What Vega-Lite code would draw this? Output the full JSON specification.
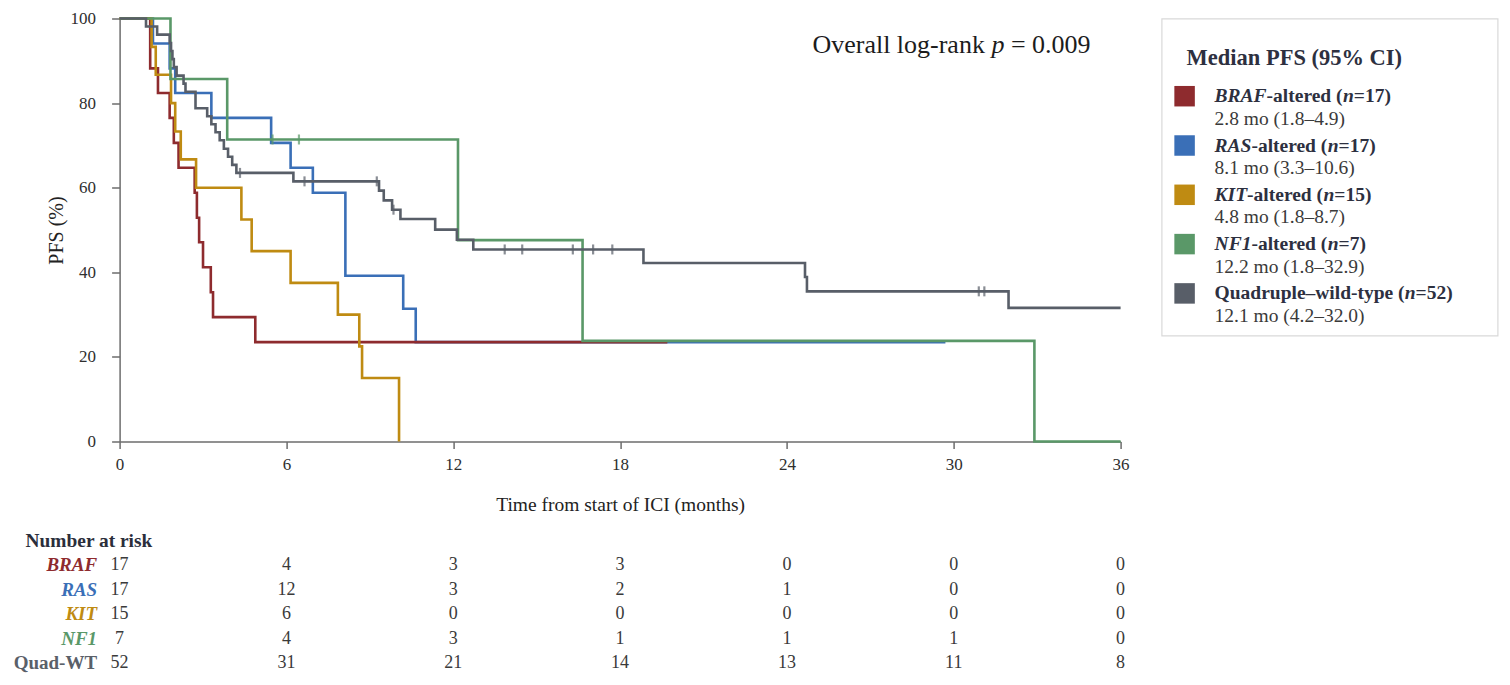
{
  "$schema": "https://vega.github.io/schema/vega-lite/v6.json",
  "padding": {"left": 12.6, "top": 9.5, "right": 5, "bottom": 5},
  "columns": 2,
  "spacing": {"row": 87.25, "column": 41},
  "bounds": "flush",
  "align": "each",
  "datasets": {
    "km": [
      {"group":"RAS","t":0,"s":100},{"group":"RAS","t":1.2,"s":94.1},{"group":"RAS","t":1.8,"s":88.2},{"group":"RAS","t":2.0,"s":82.4},{"group":"RAS","t":3.3,"s":76.5},{"group":"RAS","t":5.45,"s":70.6},{"group":"RAS","t":6.15,"s":64.7},{"group":"RAS","t":6.95,"s":58.8},{"group":"RAS","t":8.12,"s":39.2},{"group":"RAS","t":10.2,"s":31.4},{"group":"RAS","t":10.65,"s":23.5},{"group":"RAS","t":29.7,"s":23.5},
      {"group":"BRAF","t":0,"s":100},{"group":"BRAF","t":1.1,"s":88.2},{"group":"BRAF","t":1.38,"s":82.4},{"group":"BRAF","t":1.8,"s":76.5},{"group":"BRAF","t":1.95,"s":70.6},{"group":"BRAF","t":2.12,"s":64.7},{"group":"BRAF","t":2.7,"s":58.8},{"group":"BRAF","t":2.78,"s":52.9},{"group":"BRAF","t":2.86,"s":47.1},{"group":"BRAF","t":3.0,"s":41.2},{"group":"BRAF","t":3.28,"s":35.3},{"group":"BRAF","t":3.36,"s":29.4},{"group":"BRAF","t":4.88,"s":23.5},{"group":"BRAF","t":19.7,"s":23.5},
      {"group":"KIT","t":0,"s":100},{"group":"KIT","t":1.15,"s":93.3},{"group":"KIT","t":1.3,"s":86.7},{"group":"KIT","t":1.85,"s":80},{"group":"KIT","t":2.0,"s":73.3},{"group":"KIT","t":2.2,"s":66.7},{"group":"KIT","t":2.75,"s":60},{"group":"KIT","t":4.38,"s":52.5},{"group":"KIT","t":4.75,"s":45},{"group":"KIT","t":6.15,"s":37.5},{"group":"KIT","t":7.85,"s":30},{"group":"KIT","t":8.62,"s":22.5},{"group":"KIT","t":8.72,"s":15},{"group":"KIT","t":10.05,"s":0},
      {"group":"NF1","t":0,"s":100},{"group":"NF1","t":1.83,"s":85.7},{"group":"NF1","t":3.87,"s":71.4},{"group":"NF1","t":12.17,"s":47.6},{"group":"NF1","t":16.65,"s":23.8},{"group":"NF1","t":32.9,"s":0},{"group":"NF1","t":36,"s":0},
      {"group":"Quad-WT","t":0,"s":100},{"group":"Quad-WT","t":0.95,"s":98.1},{"group":"Quad-WT","t":1.35,"s":96.2},{"group":"Quad-WT","t":1.8,"s":94.2},{"group":"Quad-WT","t":1.85,"s":92.3},{"group":"Quad-WT","t":1.9,"s":90.4},{"group":"Quad-WT","t":1.95,"s":88.5},{"group":"Quad-WT","t":2.05,"s":86.5},{"group":"Quad-WT","t":2.3,"s":84.6},{"group":"Quad-WT","t":2.37,"s":82.7},{"group":"Quad-WT","t":2.73,"s":78.8},{"group":"Quad-WT","t":3.15,"s":76.9},{"group":"Quad-WT","t":3.3,"s":75.0},{"group":"Quad-WT","t":3.45,"s":73.1},{"group":"Quad-WT","t":3.6,"s":71.2},{"group":"Quad-WT","t":3.75,"s":69.2},{"group":"Quad-WT","t":3.9,"s":67.3},{"group":"Quad-WT","t":4.05,"s":65.4},{"group":"Quad-WT","t":4.2,"s":63.5},{"group":"Quad-WT","t":6.25,"s":61.5},{"group":"Quad-WT","t":9.33,"s":59.3},{"group":"Quad-WT","t":9.5,"s":57.0},{"group":"Quad-WT","t":9.8,"s":54.8},{"group":"Quad-WT","t":10.1,"s":52.6},{"group":"Quad-WT","t":11.35,"s":50.1},{"group":"Quad-WT","t":12.13,"s":47.7},{"group":"Quad-WT","t":12.72,"s":45.4},{"group":"Quad-WT","t":18.84,"s":42.2},{"group":"Quad-WT","t":24.65,"s":38.9},{"group":"Quad-WT","t":24.72,"s":35.5},{"group":"Quad-WT","t":31.97,"s":31.6},{"group":"Quad-WT","t":36,"s":31.6}
    ],
    "censor": [
      {"group":"NF1","t":5.5,"s":71.4},{"group":"NF1","t":6.45,"s":71.4},
      {"group":"Quad-WT","t":4.33,"s":63.5},{"group":"Quad-WT","t":6.65,"s":61.5},{"group":"Quad-WT","t":9.25,"s":61.5},{"group":"Quad-WT","t":9.85,"s":54.8},{"group":"Quad-WT","t":13.85,"s":45.4},{"group":"Quad-WT","t":14.48,"s":45.4},{"group":"Quad-WT","t":16.3,"s":45.4},{"group":"Quad-WT","t":17.03,"s":45.4},{"group":"Quad-WT","t":17.72,"s":45.4},{"group":"Quad-WT","t":30.9,"s":35.5},{"group":"Quad-WT","t":31.1,"s":35.5}
    ],
    "risk": [
      {"group":"BRAF","time":0,"n":17},{"group":"BRAF","time":6,"n":4},{"group":"BRAF","time":12,"n":3},{"group":"BRAF","time":18,"n":3},{"group":"BRAF","time":24,"n":0},{"group":"BRAF","time":30,"n":0},{"group":"BRAF","time":36,"n":0},
      {"group":"RAS","time":0,"n":17},{"group":"RAS","time":6,"n":12},{"group":"RAS","time":12,"n":3},{"group":"RAS","time":18,"n":2},{"group":"RAS","time":24,"n":1},{"group":"RAS","time":30,"n":0},{"group":"RAS","time":36,"n":0},
      {"group":"KIT","time":0,"n":15},{"group":"KIT","time":6,"n":6},{"group":"KIT","time":12,"n":0},{"group":"KIT","time":18,"n":0},{"group":"KIT","time":24,"n":0},{"group":"KIT","time":30,"n":0},{"group":"KIT","time":36,"n":0},
      {"group":"NF1","time":0,"n":7},{"group":"NF1","time":6,"n":4},{"group":"NF1","time":12,"n":3},{"group":"NF1","time":18,"n":1},{"group":"NF1","time":24,"n":1},{"group":"NF1","time":30,"n":1},{"group":"NF1","time":36,"n":0},
      {"group":"Quad-WT","time":0,"n":52},{"group":"Quad-WT","time":6,"n":31},{"group":"Quad-WT","time":12,"n":21},{"group":"Quad-WT","time":18,"n":14},{"group":"Quad-WT","time":24,"n":13},{"group":"Quad-WT","time":30,"n":11},{"group":"Quad-WT","time":36,"n":8}
    ],
    "leg": [
      {"group":"BRAF","gene":"BRAF","n":"=17)","ci":"2.8 mo (1.8–4.9)"},
      {"group":"RAS","gene":"RAS","n":"=17)","ci":"8.1 mo (3.3–10.6)"},
      {"group":"KIT","gene":"KIT","n":"=15)","ci":"4.8 mo (1.8–8.7)"},
      {"group":"NF1","gene":"NF1","n":"=7)","ci":"12.2 mo (1.8–32.9)"},
      {"group":"Quad-WT","gene":"Quadruple–wild-type (","n":"=52)","ci":"12.1 mo (4.2–32.0)"}
    ]
  },
  "concat": [
    {
      "width": 1001,
      "height": 423,
      "layer": [
        {
          "data": {"name": "km"},
          "mark": {"type": "line", "interpolate": "step-after", "strokeWidth": 2.6},
          "encoding": {
            "x": {"field": "t", "type": "quantitative", "scale": {"domain": [0, 36], "nice": false, "zero": true},
              "axis": {"values": [0, 6, 12, 18, 24, 30, 36], "title": "Time from start of ICI (months)", "tickSize": 7, "labelPadding": 8, "titlePadding": 23, "labelFontSize": 17, "titleFontSize": 19.5}},
            "y": {"field": "s", "type": "quantitative", "scale": {"domain": [0, 100], "nice": false},
              "axis": {"values": [0, 20, 40, 60, 80, 100], "title": "PFS (%)", "tickSize": 8, "labelPadding": 16, "titlePadding": 4, "labelFontSize": 17, "titleFontSize": 20}},
            "color": {"field": "group", "type": "nominal", "scale": {"domain": ["BRAF", "RAS", "KIT", "NF1", "Quad-WT"], "range": ["#8e2b2e", "#3a6fb7", "#bf8b12", "#5a9868", "#585e68"]}, "legend": null}
          }
        },
        {
          "data": {"name": "censor"},
          "mark": {"type": "tick", "orient": "vertical", "size": 10, "thickness": 2.2},
          "encoding": {
            "x": {"field": "t", "type": "quantitative"},
            "y": {"field": "s", "type": "quantitative"},
            "color": {"field": "group", "type": "nominal", "scale": {"domain": ["BRAF", "RAS", "KIT", "NF1", "Quad-WT"], "range": ["#8e2b2e", "#3a6fb7", "#bf8b12", "#5a9868", "#585e68"]}, "legend": null}
          }
        },
        {
          "data": {"values": [{"txt": "= 0.009"}]},
          "mark": {"type": "text", "align": "right", "baseline": "alphabetic", "dx": -30, "dy": 34.7, "fontSize": 26, "color": "#1c1c1c"},
          "encoding": {"x": {"datum": 36}, "y": {"datum": 100}, "text": {"field": "txt"}}
        },
        {
          "data": {"values": [{"txt": "p"}]},
          "mark": {"type": "text", "align": "right", "baseline": "alphabetic", "dx": -116.2, "dy": 34.7, "fontSize": 26, "fontStyle": "italic", "color": "#1c1c1c"},
          "encoding": {"x": {"datum": 36}, "y": {"datum": 100}, "text": {"field": "txt"}}
        },
        {
          "data": {"values": [{"txt": "Overall log-rank"}]},
          "mark": {"type": "text", "align": "right", "baseline": "alphabetic", "dx": -135.7, "dy": 34.7, "fontSize": 26, "color": "#1c1c1c"},
          "encoding": {"x": {"datum": 36}, "y": {"datum": 100}, "text": {"field": "txt"}}
        }
      ]
    },
    {
      "width": 336,
      "height": 317,
      "view": {"stroke": "#d9d9d9", "strokeWidth": 1.2},
      "data": {"name": "leg"},
      "encoding": {
        "y": {"field": "group", "type": "nominal", "scale": {"type": "band", "domain": ["title", "BRAF", "RAS", "KIT", "NF1", "Quad-WT"], "paddingInner": 0, "paddingOuter": 0.215, "align": 0.177}, "axis": null},
        "x": {"datum": "text", "type": "nominal", "scale": {"type": "point", "domain": ["swatch", "text"], "range": [23, 53], "padding": 0}, "axis": null}
      },
      "layer": [
        {
          "mark": {"type": "square", "size": 420, "filled": true, "opacity": 1},
          "encoding": {
            "x": {"datum": "swatch", "type": "nominal"},
            "color": {"field": "group", "type": "nominal", "scale": {"domain": ["BRAF", "RAS", "KIT", "NF1", "Quad-WT"], "range": ["#8e2b2e", "#3a6fb7", "#bf8b12", "#5a9868", "#585e68"]}, "legend": null}
          }
        },
        {
          "data": {"values": [{"t": "Median PFS (95% CI)"}]},
          "mark": {"type": "text", "align": "left", "baseline": "alphabetic", "dx": 2, "dy": 18, "fontSize": 22.5, "fontWeight": "bold", "color": "#2d3040"},
          "encoding": {"x": {"datum": "swatch", "type": "nominal"}, "y": {"datum": "title", "type": "nominal"}, "text": {"field": "t"}}
        },
        {
          "transform": [{"filter": "datum.group !== 'Quad-WT'"}],
          "mark": {"type": "text", "align": "left", "baseline": "alphabetic", "dy": 6, "fontSize": 19.5, "fontWeight": "bold", "fontStyle": "italic", "color": "#2d3040"},
          "encoding": {"text": {"field": "gene"}}
        },
        {
          "transform": [{"filter": "datum.group === 'Quad-WT'"}],
          "mark": {"type": "text", "align": "left", "baseline": "alphabetic", "dy": 6, "fontSize": 19.5, "fontWeight": "bold", "color": "#2d3040"},
          "encoding": {"text": {"field": "gene"}}
        },
        {
          "transform": [{"filter": "datum.group === 'BRAF'"}],
          "mark": {"type": "text", "align": "left", "baseline": "alphabetic", "dx": 52.0, "dy": 6, "fontSize": 19.5, "fontWeight": "bold", "color": "#2d3040"},
          "encoding": {"text": {"value": "-altered ("}}
        },
        {
          "transform": [{"filter": "datum.group === 'RAS' || datum.group === 'NF1'"}],
          "mark": {"type": "text", "align": "left", "baseline": "alphabetic", "dx": 36.8, "dy": 6, "fontSize": 19.5, "fontWeight": "bold", "color": "#2d3040"},
          "encoding": {"text": {"value": "-altered ("}}
        },
        {
          "transform": [{"filter": "datum.group === 'KIT'"}],
          "mark": {"type": "text", "align": "left", "baseline": "alphabetic", "dx": 32.5, "dy": 6, "fontSize": 19.5, "fontWeight": "bold", "color": "#2d3040"},
          "encoding": {"text": {"value": "-altered ("}}
        },
        {
          "transform": [{"filter": "datum.group === 'BRAF'"}],
          "mark": {"type": "text", "align": "left", "baseline": "alphabetic", "dx": 128.3, "dy": 6, "fontSize": 19.5, "fontWeight": "bold", "fontStyle": "italic", "color": "#2d3040"},
          "encoding": {"text": {"value": "n"}}
        },
        {
          "transform": [{"filter": "datum.group === 'RAS' || datum.group === 'NF1'"}],
          "mark": {"type": "text", "align": "left", "baseline": "alphabetic", "dx": 113.2, "dy": 6, "fontSize": 19.5, "fontWeight": "bold", "fontStyle": "italic", "color": "#2d3040"},
          "encoding": {"text": {"value": "n"}}
        },
        {
          "transform": [{"filter": "datum.group === 'KIT'"}],
          "mark": {"type": "text", "align": "left", "baseline": "alphabetic", "dx": 108.8, "dy": 6, "fontSize": 19.5, "fontWeight": "bold", "fontStyle": "italic", "color": "#2d3040"},
          "encoding": {"text": {"value": "n"}}
        },
        {
          "transform": [{"filter": "datum.group === 'Quad-WT'"}],
          "mark": {"type": "text", "align": "left", "baseline": "alphabetic", "dx": 190.1, "dy": 6, "fontSize": 19.5, "fontWeight": "bold", "fontStyle": "italic", "color": "#2d3040"},
          "encoding": {"text": {"value": "n"}}
        },
        {
          "transform": [{"filter": "datum.group === 'BRAF'"}],
          "mark": {"type": "text", "align": "left", "baseline": "alphabetic", "dx": 139.2, "dy": 6, "fontSize": 19.5, "fontWeight": "bold", "color": "#2d3040"},
          "encoding": {"text": {"field": "n"}}
        },
        {
          "transform": [{"filter": "datum.group === 'RAS' || datum.group === 'NF1'"}],
          "mark": {"type": "text", "align": "left", "baseline": "alphabetic", "dx": 124.0, "dy": 6, "fontSize": 19.5, "fontWeight": "bold", "color": "#2d3040"},
          "encoding": {"text": {"field": "n"}}
        },
        {
          "transform": [{"filter": "datum.group === 'KIT'"}],
          "mark": {"type": "text", "align": "left", "baseline": "alphabetic", "dx": 119.7, "dy": 6, "fontSize": 19.5, "fontWeight": "bold", "color": "#2d3040"},
          "encoding": {"text": {"field": "n"}}
        },
        {
          "transform": [{"filter": "datum.group === 'Quad-WT'"}],
          "mark": {"type": "text", "align": "left", "baseline": "alphabetic", "dx": 201.0, "dy": 6, "fontSize": 19.5, "fontWeight": "bold", "color": "#2d3040"},
          "encoding": {"text": {"field": "n"}}
        },
        {
          "mark": {"type": "text", "align": "left", "baseline": "alphabetic", "dy": 28.6, "fontSize": 19.5, "color": "#3a3a3a"},
          "encoding": {"text": {"field": "ci"}}
        }
      ]
    },
    {
      "width": 1001,
      "height": 147,
      "layer": [
        {
          "data": {"name": "risk"},
          "mark": {"type": "text", "fontSize": 18, "color": "#3a3a3a", "baseline": "middle"},
          "encoding": {
            "x": {"field": "time", "type": "quantitative", "scale": {"domain": [0, 36], "nice": false}, "axis": null},
            "y": {"field": "group", "type": "nominal",
              "scale": {"type": "band", "domain": ["header", "BRAF", "RAS", "KIT", "NF1", "Quad-WT"], "paddingInner": 0, "paddingOuter": 0},
              "axis": {
                "title": null, "domain": false, "ticks": false, "tickSize": 0, "labelPadding": 23,
                "labelFontSize": 19, "labelFontWeight": "bold",
                "labelExpr": "datum.value === 'header' ? '' : datum.value",
                "labelFontStyle": {"condition": {"test": "datum.value === 'Quad-WT'", "value": "normal"}, "value": "italic"},
                "labelColor": {"condition": [
                  {"test": "datum.value === 'BRAF'", "value": "#8e2b2e"},
                  {"test": "datum.value === 'RAS'", "value": "#3a6fb7"},
                  {"test": "datum.value === 'KIT'", "value": "#bf8b12"},
                  {"test": "datum.value === 'NF1'", "value": "#5a9868"}
                ], "value": "#5a6069"}
              }},
            "text": {"field": "n", "type": "quantitative"}
          }
        },
        {
          "data": {"values": [{"label": "Number at risk"}]},
          "mark": {"type": "text", "align": "left", "baseline": "middle", "dx": -94, "fontSize": 19.4, "fontWeight": "bold", "color": "#2b2e3b"},
          "encoding": {"x": {"datum": 0}, "y": {"datum": "header", "type": "nominal"}, "text": {"field": "label"}}
        }
      ]
    }
  ],
  "config": {
    "font": "Liberation Serif",
    "view": {"stroke": null},
    "text": {"font": "Liberation Serif"},
    "title": {"font": "Liberation Serif"},
    "axis": {
      "labelFont": "Liberation Serif", "titleFont": "Liberation Serif", "grid": false,
      "domainColor": "#6d6d6d", "tickColor": "#6d6d6d", "domainWidth": 1.5, "tickWidth": 1.5,
      "labelColor": "#2f2f2f", "titleColor": "#222222", "titleFontWeight": "normal", "labelFlush": false
    }
  }
}
